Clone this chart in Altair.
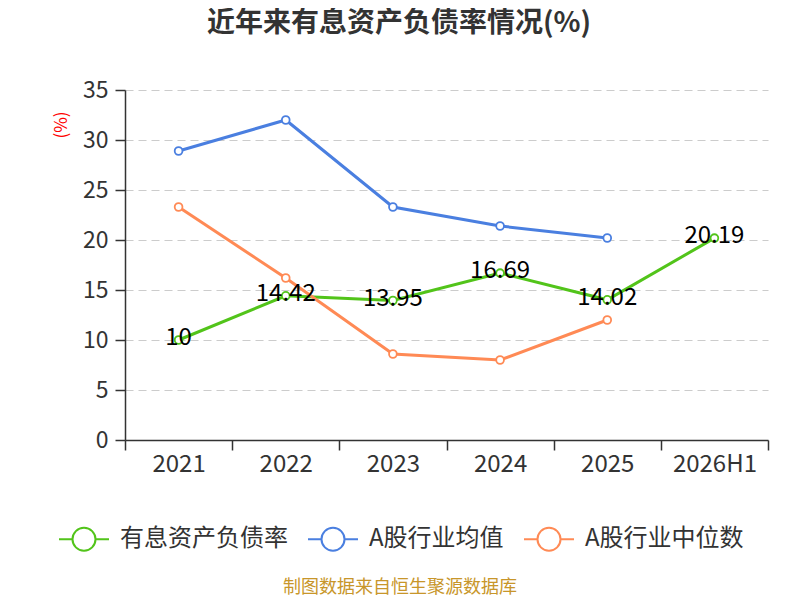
import altair as alt
import pandas as pd

years = ["2021", "2022", "2023", "2024", "2025", "2026H1"]
series_names = ["有息资产负债率", "A股行业均值", "A股行业中位数"]
company = [10, 14.42, 13.95, 16.69, 14.02, 20.19]
industry_avg = [28.9, 32.0, 23.3, 21.4, 20.2, None]
industry_median = [23.3, 16.2, 8.6, 8.0, 12.0, None]
colors = ["#52c41a", "#4a7fe0", "#ff8a55"]

rows = []
for name, vals in zip(series_names, [company, industry_avg, industry_median]):
    for y, v in zip(years, vals):
        if v is not None:
            rows.append({"year": y, "series": name, "value": v})
df = pd.DataFrame(rows)
lab = pd.DataFrame({"year": years, "value": company,
                    "label": [f"{v:g}" for v in company]})

FONT = "Noto Sans CJK SC"
W, H = 643, 350

x = alt.X("year:N", sort=years, title=None,
          scale=alt.Scale(domain=years, paddingInner=0, paddingOuter=0),
          axis=alt.Axis(labelAngle=0, labelFontSize=24, labelColor="#333",
                        labelFont=FONT, labelPadding=2, tickBand="extent",
                        tickSize=10, tickColor="#333", domainColor="#333",
                        domainWidth=1.5, tickWidth=1.5, grid=False))
y = alt.Y("value:Q", title=None,
          scale=alt.Scale(domain=[0, 35], nice=False),
          axis=alt.Axis(values=[0, 5, 10, 15, 20, 25, 30, 35], labelFontSize=23,
                        labelColor="#333", labelFont=FONT, labelPadding=7,
                        tickSize=10, tickColor="#333", domainColor="#333",
                        domainWidth=1.5, tickWidth=1.5, grid=True,
                        gridColor="#cccccc", gridDash=[8, 5], gridWidth=1.2))
color = alt.Color("series:N", sort=series_names,
                  scale=alt.Scale(domain=series_names, range=colors),
                  legend=alt.Legend(
                      title=None, orient="none", direction="horizontal",
                      legendX=-67, legendY=423,
                      symbolType="M-1,0L-0.46,0M0.46,0L1,0M-0.46,0A0.46,0.46 0 1,0 0.46,0A0.46,0.46 0 1,0 -0.46,0Z",
                      symbolSize=2500, symbolStrokeWidth=2, symbolFillColor="white",
                      labelFontSize=24, labelFont=FONT, labelColor="#333",
                      labelOffset=10, columnPadding=16, labelLimit=300))

lines = alt.Chart(df).mark_line(strokeWidth=3).encode(x=x, y=y, color=color)
points = alt.Chart(df).mark_point(filled=True, fill="white", size=60, strokeWidth=1.8,
                                  opacity=1).encode(
    x=x, y=y, stroke=alt.Color("series:N", scale=alt.Scale(domain=series_names, range=colors),
                               legend=None))
labels = alt.Chart(lab).mark_text(fontSize=24, font=FONT, color="#000",
                                  baseline="middle", dy=-2).encode(
    x=alt.X("year:N", sort=years), y="value:Q", text="label:N")

title = alt.Chart(pd.DataFrame({"t": ["近年来有息资产负债率情况(%)"]})).mark_text(
    fontSize=28, fontWeight="bold", font=FONT, color="#333", baseline="top").encode(
    x=alt.value(274), y=alt.value(-80), text="t:N")
unit = alt.Chart(pd.DataFrame({"t": ["(%)"]})).mark_text(
    fontSize=17, font=FONT, color="#ff0000", angle=270, baseline="middle").encode(
    x=alt.value(-63), y=alt.value(35), text="t:N")
source = alt.Chart(pd.DataFrame({"t": ["制图数据来自恒生聚源数据库"]})).mark_text(
    fontSize=18, font=FONT, color="#c8962a", baseline="middle").encode(
    x=alt.value(275), y=alt.value(498), text="t:N")

chart = alt.layer(lines, points, labels, title, unit, source).properties(
    width=W, height=H,
    autosize=alt.AutoSizeParams(type="none"),
    padding={"left": 117, "top": 82, "right": 24, "bottom": 160},
).configure_view(stroke=None).configure_text(font=FONT)

chart.save("out.html", embed_options={"renderer": "svg", "actions": False})
